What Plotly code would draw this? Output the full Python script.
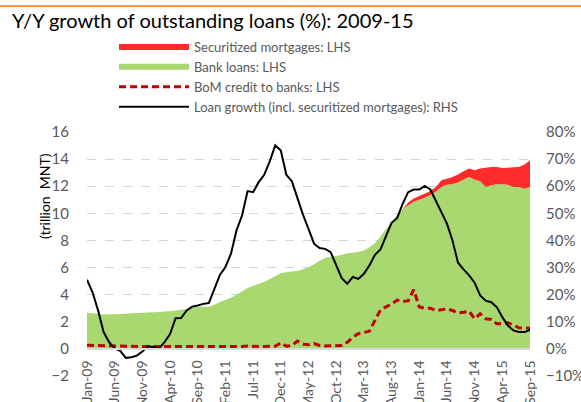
import pandas as pd
import plotly.graph_objects as go

months = list(pd.date_range("2009-01-01", periods=81, freq="MS").strftime("%b-%y"))

bank_loans = [
    2.66, 2.62, 2.58, 2.54, 2.55, 2.56, 2.58, 2.60, 2.62, 2.64, 2.66, 2.68,
    2.70, 2.72, 2.76, 2.80, 2.84, 2.88, 2.95, 3.05, 3.10, 3.10, 3.10, 3.25,
    3.45, 3.60, 3.77, 4.00, 4.25, 4.50, 4.65, 4.80, 4.93, 5.15, 5.35, 5.60,
    5.65, 5.70, 5.75, 5.88, 6.03, 6.25, 6.50, 6.70, 6.80, 6.85, 6.95, 7.05,
    7.10, 7.15, 7.25, 7.50, 7.80, 8.30, 8.85, 9.36, 9.90, 10.30, 10.60, 10.85,
    11.00, 11.15, 11.35, 11.60, 11.95, 12.10, 12.17, 12.27, 12.49, 12.68, 12.49, 12.36,
    11.95, 12.07, 12.14, 12.14, 12.10, 11.95, 11.95, 11.82, 11.95,
]

# securitized mortgages only start in Nov-13
sec_start = 58
securitized = [
    0.20, 0.25, 0.28, 0.30, 0.30, 0.35, 0.49, 0.46, 0.51, 0.59, 0.61, 0.62,
    0.69, 0.94, 1.42, 1.35, 1.28, 1.21, 1.27, 1.45, 1.47, 1.78, 1.97,
]

bom_credit = [
    0.27, 0.26, 0.25, 0.22, 0.20, 0.17, 0.17, 0.17, 0.18, 0.18, 0.18, 0.20,
    0.18, 0.17, 0.17, 0.17, 0.17, 0.17, 0.16, 0.16, 0.17, 0.17, 0.17, 0.16,
    0.16, 0.15, 0.15, 0.16, 0.17, 0.22, 0.18, 0.17, 0.17, 0.18, 0.20, 0.44,
    0.20, 0.25, 0.57, 0.35, 0.30, 0.40, 0.25, 0.22, 0.22, 0.22, 0.25, 0.49,
    0.86, 1.12, 1.20, 1.30, 2.10, 2.88, 3.10, 3.30, 3.60, 3.50, 3.55, 4.36,
    3.10, 3.00, 3.00, 2.83, 2.88, 2.96, 2.83, 2.66, 2.70, 2.78, 2.22, 2.59,
    2.22, 2.17, 1.85, 1.85, 1.92, 1.77, 1.55, 1.55, 1.53,
]

loan_growth = [
    25.5, 20.9, 14.2, 6.2, 2.5, 0.2, -0.7, -3.3, -3.1, -2.5, -1.0, 1.0,
    0.6, 0.2, 2.5, 5.5, 11.3, 11.4, 14.2, 15.6, 16.0, 16.6, 16.9, 22.2,
    27.3, 30.2, 35.1, 43.7, 49.2, 58.2, 57.8, 61.5, 64.2, 69.2, 75.1, 73.2,
    64.2, 61.8, 55.4, 49.5, 44.3, 38.8, 37.2, 36.9, 35.7, 30.8, 26.1, 24.0,
    26.5, 25.8, 27.7, 30.8, 34.7, 36.7, 41.8, 46.5, 48.2, 53.5, 57.8, 58.8,
    58.8, 60.1, 58.8, 54.8, 50.2, 46.2, 40.0, 31.8, 29.3, 27.1, 24.4, 19.7,
    17.8, 17.2, 15.4, 11.7, 8.6, 6.8, 6.2, 6.2, 7.0,
]

FONT = "Lato"
GREY = "#595959"
GRID = "#c6d9f1"

# plot area in pixels: x 87..530, y 132..376
PL, PR, PT, PB = 87, 530, 132, 376
W, H = 581, 402


def px_x(px):
    return (px - PL) / (PR - PL)


def px_y(py):
    return (PB - py) / (PB - PT)


fig = go.Figure()
fig.add_trace(go.Scatter(
    x=months, y=bank_loans, name="Bank loans: LHS", stackgroup="loans",
    mode="none", fillcolor="#a9d871", legendrank=2,
))
fig.add_trace(go.Scatter(
    x=months[sec_start:], y=securitized, name="Securitized mortgages: LHS",
    stackgroup="loans", mode="none", fillcolor="#ff2a2a", legendrank=1,
))
fig.add_trace(go.Scatter(
    x=months, y=bom_credit, name="BoM credit to banks: LHS", mode="lines",
    line=dict(color="#c00000", width=3, dash="7px,4px"), legendrank=3,
))
fig.add_trace(go.Scatter(
    x=months, y=loan_growth, name="Loan growth (incl. securitized mortgages): RHS",
    mode="lines", yaxis="y2", line=dict(color="black", width=2), legendrank=4,
))

fig.update_layout(
    width=W,
    height=H,
    margin=dict(l=PL, r=W - PR, t=PT, b=H - PB, autoexpand=False),
    paper_bgcolor="white",
    plot_bgcolor="white",
    font=dict(family=FONT, size=14, color=GREY),
    title=dict(
        text="Y/Y growth of outstanding loans (%): 2009-15",
        font=dict(family=FONT, size=20, color="black"),
        x=12 / W, xanchor="left",
        y=1 - 21 / H, yanchor="middle",
    ),
    legend=dict(
        x=px_x(114), xanchor="left",
        y=px_y(32), yanchor="top",
        traceorder="normal",
        font=dict(family=FONT, size=13, color=GREY),
        itemwidth=70,
        bgcolor="rgba(0,0,0,0)",
    ),
    showlegend=True,
    xaxis=dict(
        type="category",
        range=[0, 80],
        tickmode="array",
        tickvals=months[::5],
        tickangle=-90,
        anchor="free",
        position=2 / 18,
        showline=True,
        linecolor="#d9d9d9",
        linewidth=2,
        showgrid=False,
        ticks="",
        ticklabelstandoff=5,
        automargin=False,
        tickfont=dict(family=FONT, size=14, color=GREY),
    ),
    yaxis=dict(
        range=[-2, 16],
        dtick=2,
        showgrid=True,
        gridcolor=GRID,
        griddash="dash",
        gridwidth=1,
        zeroline=False,
        ticks="",
        ticklabelstandoff=17,
        automargin=False,
        tickfont=dict(family=FONT, size=15, color=GREY),
    ),
    yaxis2=dict(
        range=[-10, 80],
        dtick=10,
        ticksuffix="%",
        overlaying="y",
        side="right",
        showgrid=False,
        zeroline=False,
        ticks="",
        ticklabelstandoff=15,
        automargin=False,
        tickfont=dict(family=FONT, size=15, color=GREY),
    ),
    annotations=[dict(
        text="(trillion  MNT)", textangle=-90, showarrow=False,
        xref="paper", yref="paper", x=px_x(44), y=px_y(196),
        xanchor="center", yanchor="middle",
        font=dict(family=FONT, size=14, color="black"),
    )],
    shapes=[dict(
        type="line", xref="paper", yref="paper",
        x0=px_x(0), x1=px_x(W), y0=px_y(6), y1=px_y(6),
        line=dict(color="#f79646", width=2),
    )],
)

fig.write_html(
    "out.html",
    config={"displayModeBar": False},
    post_script="document.body.style.margin = '0px';",
)
